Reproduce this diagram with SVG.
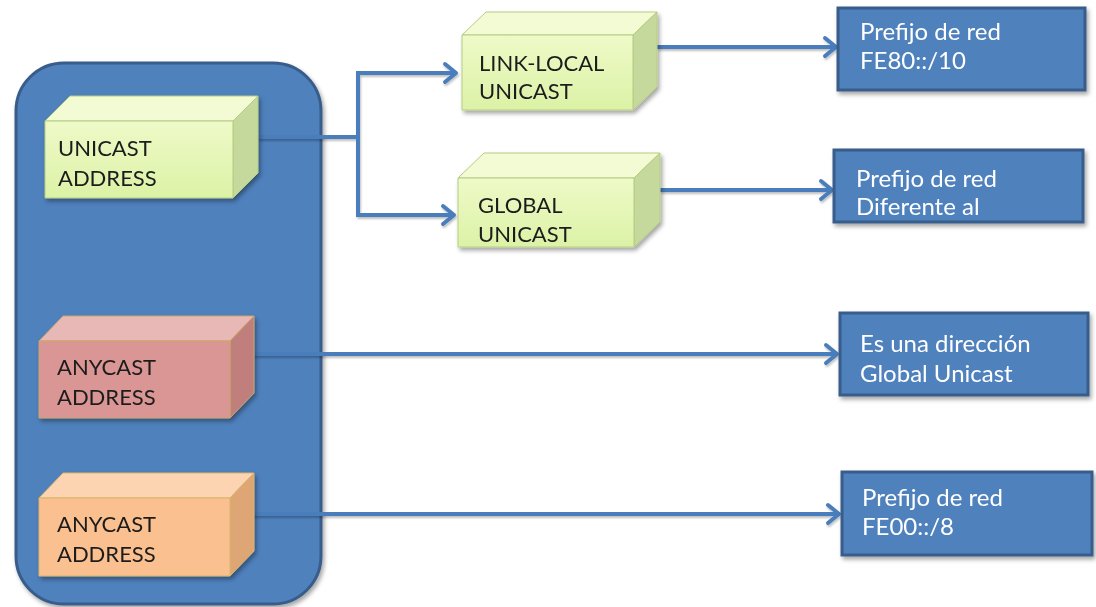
<svg xmlns="http://www.w3.org/2000/svg" width="1096" height="607" viewBox="0 0 1096 607">
  <defs>
    <style>
      .lbl { font-family: Lato, "Open Sans", "Liberation Sans", sans-serif; font-size: 22px; fill: #1c1c1c; }
      .info { font-family: Lato, "Open Sans", "Liberation Sans", sans-serif; font-size: 24px; fill: #ffffff; }
      .info-box { fill: #4f81bd; stroke: #385d8a; stroke-width: 3; }
      .conn { fill: none; stroke: #4a7dbb; stroke-width: 4; }
      .edge { stroke-width: 1; stroke-linejoin: round; }
      .green .front { fill: url(#gFront); }
      .green .top { fill: #f2fbd4; }
      .green .side { fill: #c6d99c; }
      .green .edge { stroke: #b5cc82; }
      .red .front { fill: #d99694; }
      .red .top { fill: #e8b8b6; }
      .red .side { fill: #c07e7c; }
      .red .edge { stroke: #c9a56a; }
      .orange .front { fill: #fac08f; }
      .orange .top { fill: #fcd4b2; }
      .orange .side { fill: #dea574; }
      .orange .edge { stroke: #d9b46a; }
    </style>
    <linearGradient id="gFront" x1="0" y1="0" x2="0" y2="1">
      <stop offset="0" stop-color="#eefac8"/>
      <stop offset="1" stop-color="#dcf2a6"/>
    </linearGradient>
    <filter id="shadow" x="-10%" y="-10%" width="130%" height="140%">
      <feDropShadow dx="2" dy="3" stdDeviation="2" flood-color="#000" flood-opacity="0.35"/>
    </filter>
    <filter id="lineShadow" x="-5%" y="-50%" width="110%" height="300%">
      <feDropShadow dx="1" dy="2" stdDeviation="1" flood-color="#000" flood-opacity="0.25"/>
    </filter>
    <marker id="arrow" markerUnits="userSpaceOnUse" viewBox="0 0 20 24" markerWidth="20" markerHeight="24" refX="16" refY="12" orient="auto">
      <path d="M5,3 L16,12 L5,21" fill="none" stroke="#4a7dbb" stroke-width="4" stroke-linecap="round" stroke-linejoin="round"/>
    </marker>
  </defs>

  <rect width="1096" height="607" fill="#ffffff"/>

  <!-- address-type container -->
  <g id="container">
    <rect x="16" y="63" width="305" height="541" rx="48" ry="48" fill="#4f81bd" stroke="#385d8a" stroke-width="3" filter="url(#shadow)"/>
  </g>

  <!-- connectors -->
  <g id="connectors" filter="url(#lineShadow)">
    <path class="conn" d="M258,137 H358 V73 H456" marker-end="url(#arrow)"/>
    <path class="conn" d="M358,137 V215 H454" marker-end="url(#arrow)"/>
    <path class="conn" d="M657,47 H836" marker-end="url(#arrow)"/>
    <path class="conn" d="M660,190 H832" marker-end="url(#arrow)"/>
    <path class="conn" d="M253,354 H837" marker-end="url(#arrow)"/>
    <path class="conn" d="M253,514 H839" marker-end="url(#arrow)"/>
  </g>

  <!-- 3D blocks -->
  <g id="unicast-address" class="green" filter="url(#shadow)">
    <polygon class="top edge" points="45,121 70,96 258,96 233,121"/>
    <polygon class="side edge" points="233,121 258,96 258,173 233,198"/>
    <rect class="front edge" x="45" y="121" width="188" height="77"/>
    <text class="lbl" x="58" y="156">UNICAST</text>
    <text class="lbl" x="58" y="186">ADDRESS</text>
  </g>

  <g id="link-local-unicast" class="green" filter="url(#shadow)">
    <polygon class="top edge" points="462,35 486,12 657,12 633,35"/>
    <polygon class="side edge" points="633,35 657,12 657,87 633,110"/>
    <rect class="front edge" x="462" y="35" width="171" height="75"/>
    <text class="lbl" x="479" y="71">LINK-LOCAL</text>
    <text class="lbl" x="479" y="99">UNICAST</text>
  </g>

  <g id="global-unicast" class="green" filter="url(#shadow)">
    <polygon class="top edge" points="458,178 484,153 660,153 634,178"/>
    <polygon class="side edge" points="634,178 660,153 660,222 634,247"/>
    <rect class="front edge" x="458" y="178" width="176" height="69"/>
    <text class="lbl" x="478" y="213">GLOBAL</text>
    <text class="lbl" x="478" y="242">UNICAST</text>
  </g>

  <g id="anycast-address-1" class="red" filter="url(#shadow)">
    <polygon class="top edge" points="39,341 63,316 254,316 230,341"/>
    <polygon class="side edge" points="230,341 254,316 254,393 230,418"/>
    <rect class="front edge" x="39" y="341" width="191" height="77"/>
    <text class="lbl" x="57" y="375">ANYCAST</text>
    <text class="lbl" x="57" y="405">ADDRESS</text>
  </g>

  <g id="anycast-address-2" class="orange" filter="url(#shadow)">
    <polygon class="top edge" points="39,498 63,473 254,473 230,498"/>
    <polygon class="side edge" points="230,498 254,473 254,551 230,576"/>
    <rect class="front edge" x="39" y="498" width="191" height="78"/>
    <text class="lbl" x="57" y="532">ANYCAST</text>
    <text class="lbl" x="57" y="562">ADDRESS</text>
  </g>

  <!-- description boxes -->
  <g id="prefix-fe80" filter="url(#shadow)">
    <rect class="info-box" x="838" y="8" width="247" height="82"/>
    <text class="info" x="860" y="40">Prefijo de red</text>
    <text class="info" x="860" y="69">FE80::/10</text>
  </g>

  <g id="prefix-global" filter="url(#shadow)">
    <rect class="info-box" x="834" y="150" width="249" height="72"/>
    <text class="info" x="856" y="187">Prefijo de red</text>
    <text class="info" x="856" y="215">Diferente al</text>
  </g>

  <g id="anycast-desc" filter="url(#shadow)">
    <rect class="info-box" x="840" y="313" width="248" height="82"/>
    <text class="info" x="860" y="352">Es una dirección</text>
    <text class="info" x="860" y="382">Global Unicast</text>
  </g>

  <g id="prefix-fe00" filter="url(#shadow)">
    <rect class="info-box" x="842" y="472" width="250" height="83"/>
    <text class="info" x="862" y="506">Prefijo de red</text>
    <text class="info" x="862" y="535">FE00::/8</text>
  </g>
</svg>
